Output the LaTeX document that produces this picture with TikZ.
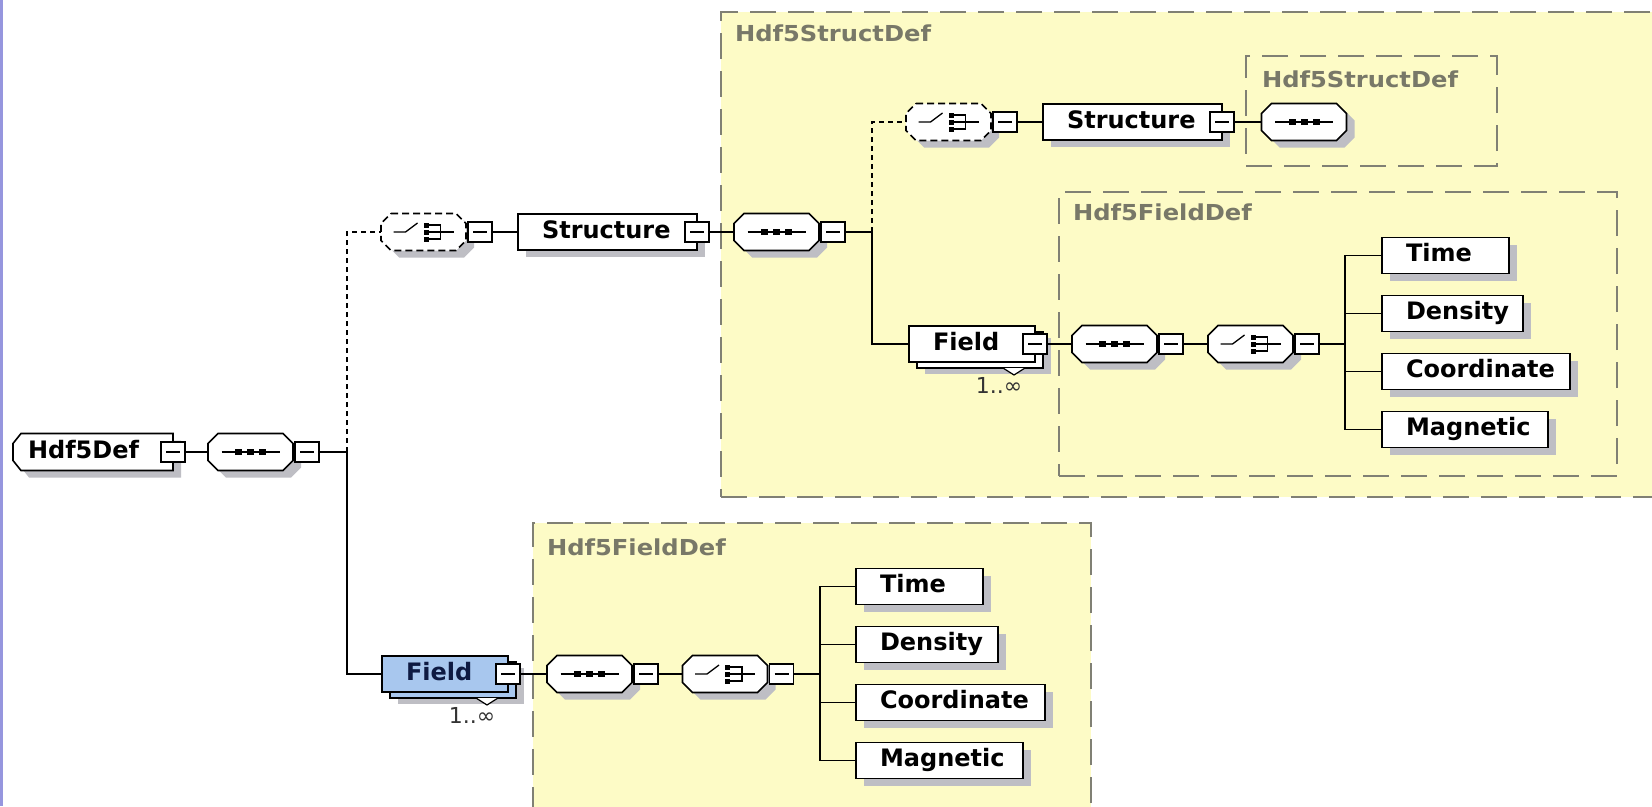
\documentclass[tikz,border=0pt]{standalone}
\usepackage{fontspec}
\setmainfont{DejaVu Sans}
\newfontfamily\labelfont{DejaVu Sans}[FakeStretch=1.1]
\usetikzlibrary{calc}

\definecolor{defyellow}{RGB}{253,251,198}
\definecolor{defborder}{RGB}{128,128,116}
\definecolor{deflabel}{RGB}{120,120,104}
\definecolor{shadowgray}{RGB}{190,190,196}
\definecolor{fieldblue}{RGB}{168,199,238}
\definecolor{fieldtext}{RGB}{14,26,66}
\definecolor{edgeblue}{RGB}{150,150,222}

\tikzset{
  every node/.style={inner sep=0pt, outer sep=0pt},
  elemfont/.style={font=\fontsize{24}{26}\selectfont\bfseries},
  elembox/.style={draw, fill=white, line width=1.6pt, elemfont,
     inner xsep=24pt, inner ysep=0pt, minimum height=36pt,
     text height=17.5pt, text depth=5pt},
  holder/.style={draw=none, minimum width=85pt, minimum height=37pt},
  minus/.style={draw, fill=white, line width=1.4pt, minimum width=24pt, minimum height=20pt,
     path picture={\draw[line width=1.2pt] ([xshift=5pt]path picture bounding box.west)
        -- ([xshift=-5pt]path picture bounding box.east);}},
  wire/.style={line width=1.6pt},
  optwire/.style={line width=1.6pt, dash pattern=on 5pt off 4pt},
  choicedash/.style={dash pattern=on 7pt off 4pt},
  glyph/.style={line width=1.3pt},
  container/.style={draw=defborder, fill=defyellow, line width=1.5pt,
     dash pattern=on 26pt off 12pt, anchor=north west},
  contlabel/.style={anchor=west, text=deflabel,
     font=\labelfont\fontsize{22}{24}\selectfont\bfseries},
  card/.style={font=\fontsize{22}{24}\selectfont, text=black!80},
}

% octagon outline centred on (x,y), 85 x 37 with 10pt chamfers
\newcommand\xsdoctagon[3]{%
  \path[#1] ({#2-32.5},{#3-18.5}) -- ({#2+32.5},{#3-18.5}) -- ({#2+42.5},{#3-8.5})
    -- ({#2+42.5},{#3+8.5}) -- ({#2+32.5},{#3+18.5}) -- ({#2-32.5},{#3+18.5})
    -- ({#2-42.5},{#3+8.5}) -- ({#2-42.5},{#3-8.5}) -- cycle;}

% sequence compositor: name, x, y
\newcommand\xsdseq[3]{%
  \xsdoctagon{fill=shadowgray}{#2+8}{#3+7}
  \xsdoctagon{draw, fill=white, line width=1.6pt}{#2}{#3}
  \node[holder] (#1) at (#2,#3) {};
  \begin{scope}[shift={(#2,#3)}]
    \draw[glyph] (-29,0) -- (29,0);
    \foreach \k in {-12,0,12} \fill (\k-3.5,-3) rectangle (\k+3.5,3);
  \end{scope}}

% choice compositor: [style], name, x, y
\newcommand\xsdchoice[4][solid]{%
  \xsdoctagon{fill=shadowgray}{#3+8}{#4+7}
  \xsdoctagon{draw, fill=white, line width=1.6pt, #1}{#3}{#4}
  \node[holder] (#2) at (#3,#4) {};
  \begin{scope}[shift={(#3,#4)}]
    \draw[glyph] (-30,0) -- (-18,0) -- (-6,-9);
    \foreach \k in {-7,0,7} \fill (0,\k-2.5) rectangle (5,\k+2.5);
    \draw[glyph] (5,-7) -- (17,-7) -- (17,7) -- (5,7) (5,0) -- (30,0);
  \end{scope}}

% collapse box right of a compositor
\newcommand\xsdminus[1]{\node[minus, anchor=west] (m-#1) at ([xshift=2pt]#1.east) {};}

% element box: name, x, y, width, text
\newcommand\xsdelem[5]{%
  \fill[shadowgray] ({#2-#4/2+8},{#3-18+7}) rectangle ({#2+#4/2+8},{#3+18+7});
  \node[elembox] (#1) at (#2,#3) {\makebox[\dimexpr#4pt-48pt\relax][l]{#5}};}

% repeated element Field: name, x, y, fill colour, text colour
\newcommand\xsdfield[5]{%
  \fill[shadowgray] ({#2-63+16},{#3-18+12}) rectangle ({#2+63+16},{#3+18+12});
  \filldraw[fill=#4, line width=1.6pt] ({#2-63+8},{#3-18+6}) rectangle ({#2+63+8},{#3+18+6});
  \filldraw[fill=white, line width=1.2pt] ({#2+31},{#3+24}) -- ({#2+42},{#3+31}) -- ({#2+53},{#3+24});
  \node[elembox, fill=#4, text=#5] (#1) at (#2,#3) {\makebox[78pt][l]{Field}};
  \node[minus] (m-#1) at (#1.east) {};
  \node[card] (#1-n) at ({#2+27},{#3+41}) {1..∞};}

\begin{document}
\begin{tikzpicture}[x=1pt, y=-1pt]
\useasboundingbox (0,0) rectangle (1652,806);
\clip (0,0) rectangle (1652,806);
\fill[white] (0,0) rectangle (1652,806);
\fill[edgeblue] (0,0) rectangle (2.5,806);

% type containers
\node[container, minimum width=944pt, minimum height=485pt] (A) at (721,12) {};
\node[contlabel] (A-l) at (735,33) {Hdf5StructDef};
\node[container, minimum width=251pt, minimum height=110pt] (B) at (1246,56) {};
\node[contlabel] (B-l) at (1262,79) {Hdf5StructDef};
\node[container, minimum width=558pt, minimum height=284pt] (C) at (1059,192) {};
\node[contlabel] (C-l) at (1073,212) {Hdf5FieldDef};
\node[container, minimum width=558pt, minimum height=292pt] (D) at (533,523) {};
\node[contlabel] (D-l) at (547,547) {Hdf5FieldDef};

% root element
\fill[shadowgray] (29,440.5) -- (181,440.5) -- (181,477.5) -- (29,477.5) -- (21,467.5) -- (21,450.5) -- cycle;
\filldraw[fill=white, line width=1.6pt] (21,433.5) -- (173,433.5) -- (173,470.5) -- (21,470.5) -- (13,460.5) -- (13,443.5) -- cycle;
\node[elemfont, inner xsep=15pt, minimum height=37pt, text height=17.5pt, text depth=5pt] (root) at (93,452) {\makebox[130pt][l]{Hdf5Def}};
\node[minus] (m-root) at (173,452) {};

\xsdseq{seq0}{250.5}{452}  \xsdminus{seq0}
\coordinate (j0) at (347,452);

% optional Structure branch
\xsdchoice[choicedash]{ch1}{423.5}{232}  \xsdminus{ch1}
\xsdelem{s1}{607.5}{232}{179}{Structure}
\node[minus] (m-s1) at (s1.east) {};
\xsdseq{seq1}{776.5}{232}  \xsdminus{seq1}
\coordinate (j1) at (872,232);

\xsdchoice[choicedash]{ch2}{948.5}{122}  \xsdminus{ch2}
\xsdelem{s2}{1132.5}{122}{179}{Structure}
\node[minus] (m-s2) at (s2.east) {};
\xsdseq{seq2}{1304}{122}

% Field inside the structure
\xsdfield{f1}{972}{344}{white}{black}
\xsdseq{seq3}{1114.5}{344}  \xsdminus{seq3}
\xsdchoice{ch3}{1250.5}{344}  \xsdminus{ch3}
\coordinate (j3) at (1345,344);
\xsdelem{t1}{1445.5}{255.5}{127}{Time}
\xsdelem{d1}{1452.5}{313.5}{141}{Density}
\xsdelem{c1}{1476}{371.5}{188}{Coordinate}
\xsdelem{g1}{1465}{429.5}{166}{Magnetic}

% top-level Field
\xsdfield{f0}{445}{674}{fieldblue}{fieldtext}
\xsdseq{seq4}{589.5}{674}  \xsdminus{seq4}
\xsdchoice{ch4}{725}{674}  \xsdminus{ch4}
\coordinate (j4) at (820,674);
\xsdelem{t0}{919.5}{586.5}{127}{Time}
\xsdelem{d0}{927}{644.5}{142}{Density}
\xsdelem{c0}{950.5}{702.5}{189}{Coordinate}
\xsdelem{g0}{939.5}{760.5}{167}{Magnetic}

% connectors
\draw[wire] (m-root.east) -- (seq0.west);
\draw[wire] (m-seq0.east) -- (j0);
\draw[optwire] (j0) |- (ch1.west);
\draw[wire] (j0) |- (f0.west);
\draw[wire] (m-ch1.east) -- (s1.west);
\draw[wire] (m-s1.east) -- (seq1.west);
\draw[wire] (m-seq1.east) -- (j1);
\draw[optwire] (j1) |- (ch2.west);
\draw[wire] (j1) |- (f1.west);
\draw[wire] (m-ch2.east) -- (s2.west);
\draw[wire] (m-s2.east) -- (seq2.west);
\draw[wire] (m-f1.east) -- (seq3.west);
\draw[wire] (m-seq3.east) -- (ch3.west);
\draw[wire] (m-ch3.east) -- (j3);
\foreach \n in {t1,d1,c1,g1} \draw[wire] (j3) |- (\n.west);
\draw[wire] (m-f0.east) -- (seq4.west);
\draw[wire] (m-seq4.east) -- (ch4.west);
\draw[wire] (m-ch4.east) -- (j4);
\foreach \n in {t0,d0,c0,g0} \draw[wire] (j4) |- (\n.west);
\end{tikzpicture}
\end{document}
